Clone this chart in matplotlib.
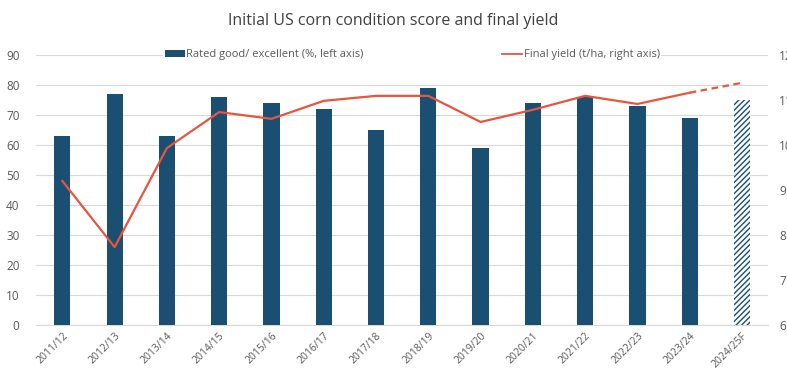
import numpy as np
import matplotlib.pyplot as plt

seasons = ["2011/12", "2012/13", "2013/14", "2014/15", "2015/16", "2016/17", "2017/18",
           "2018/19", "2019/20", "2020/21", "2021/22", "2022/23", "2023/24", "2024/25F"]
rated_good = [63, 77, 63, 76, 74, 72, 65, 79, 59, 74, 76, 73, 69, 75]
final_yield = [9.2, 7.73, 9.93, 10.73, 10.58, 10.98, 11.09, 11.09, 10.51, 10.78,
               11.09, 10.91, 11.16, 11.38]

blue = "#1b4f72"
red = "#e8553f"
grey = "#595959"

plt.rcParams['font.family'] = ['Open Sans', 'DejaVu Sans']

fig = plt.figure(figsize=(7.87, 3.71), dpi=100)
ax = fig.add_axes([0.046, 0.124, 0.93, 0.728])
ax2 = ax.twinx()

x = np.arange(len(seasons))
ax.bar(x[:-1], rated_good[:-1], width=0.31, color=blue, zorder=3,
       label="Rated good/ excellent (%, left axis)")
ax.bar(x[-1], rated_good[-1], width=0.31, color="white", edgecolor=blue,
       hatch="//////", linewidth=0, zorder=3)

ax2.plot(x[:-1], final_yield[:-1], color=red, lw=1.6, zorder=4,
         label="Final yield (t/ha, right axis)")
ax2.plot(x[-2:], final_yield[-2:], color=red, lw=1.6, ls=(0, (3, 2)), zorder=4)

ax.set_ylim(0, 90)
ax.set_yticks(range(0, 91, 10))
ax2.set_ylim(6, 12)
ax2.set_yticks(range(6, 13))
ax.set_xlim(-0.5, len(seasons) - 0.5)
ax.set_xticks(x)
ax.set_xticklabels(seasons, rotation=45, ha="right", rotation_mode="anchor")

ax.grid(axis="y", color="#d9d9d9", lw=0.8, zorder=0)
ax.set_axisbelow(True)
for a in (ax, ax2):
    for s in a.spines.values():
        s.set_visible(False)
    a.tick_params(length=0, labelsize=8.5, colors=grey)
ax.spines["bottom"].set_visible(True)
ax.spines["bottom"].set_color("#d9d9d9")
ax.tick_params(axis="y", pad=12)
ax2.tick_params(axis="y", pad=8)
ax.tick_params(axis="x", pad=4, labelsize=7.5)

ax2.set_zorder(ax.get_zorder() + 1)
ax2.patch.set_visible(False)

h1, l1 = ax.get_legend_handles_labels()
h2, l2 = ax2.get_legend_handles_labels()
leg = ax2.legend(h1 + h2, l1 + l2, loc="center", bbox_to_anchor=(0.514, 1.0), ncol=2,
                 frameon=True, fontsize=8, columnspacing=12.5, handlelength=1.8,
                 handletextpad=0.15, borderpad=0.1, labelcolor=grey)
leg.get_frame().set_edgecolor("none")
leg.get_frame().set_facecolor("white")
leg.get_frame().set_alpha(1)
leg.get_lines()[0].set_linewidth(1.3)

fig.suptitle("Initial US corn condition score and final yield", y=0.965, fontsize=11.5,
             color="#404040")

fig.savefig("out.png", dpi=100)
